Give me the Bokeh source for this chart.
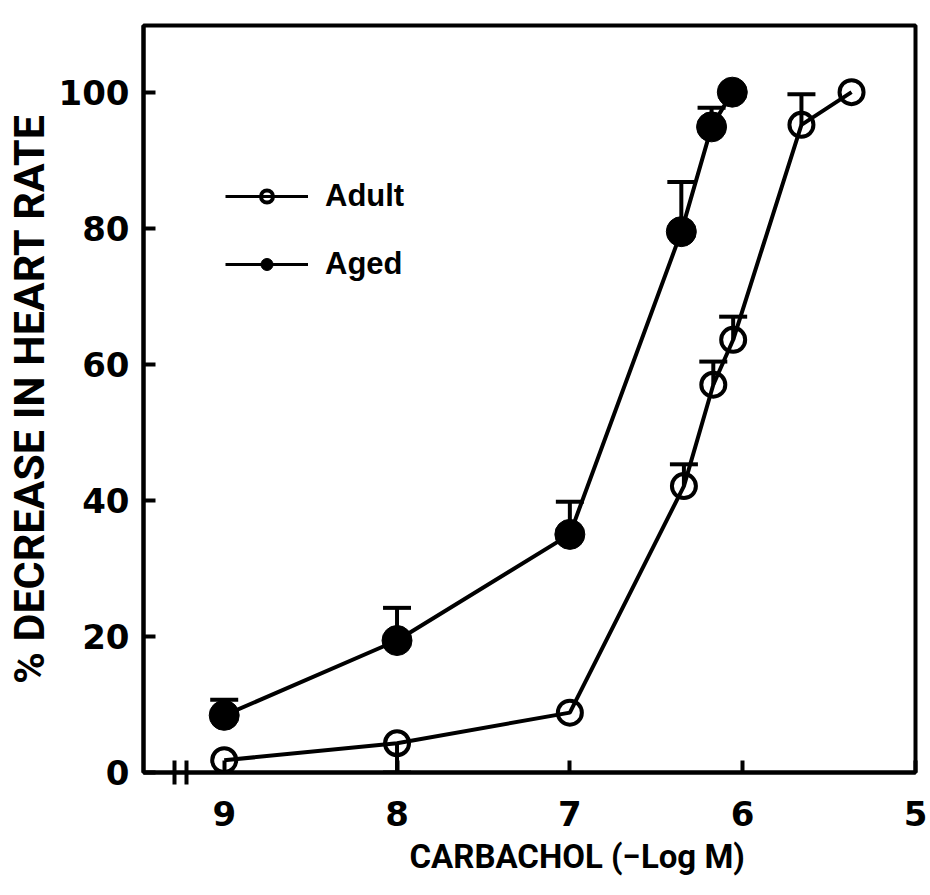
from bokeh.plotting import figure
from bokeh.models import (Range1d, FixedTicker, Whisker, TeeHead, ColumnDataSource,
                          Legend, LegendItem, Title)
from bokeh.embed import file_html
from bokeh.resources import INLINE

# ---- data ----
adult_x = [9.0, 8.0, 7.0, 6.34, 6.17, 6.055, 5.66, 5.37]
adult_y = [1.8, 4.3, 8.8, 42.1, 57.0, 63.6, 95.2, 100.0]
adult_err_up = [0, 0, 0, 3.2, 3.4, 3.4, 4.5, 0]
adult_err_down = [0, 4.3, 0, 0, 0, 0, 0, 0]

aged_x = [9.0, 8.0, 7.0, 6.355, 6.18, 6.06]
aged_y = [8.4, 19.4, 35.0, 79.5, 94.9, 100.0]
aged_err_up = [2.3, 4.8, 4.8, 7.3, 2.8, 0]

x_ticks = [9, 8, 7, 6, 5]
y_ticks = [0, 20, 40, 60, 80, 100]
x_break = [9.29, 9.22]

x_title = "CARBACHOL (\u2212Log M)"
y_title = "% DECREASE IN HEART RATE"
series_names = ["Adult", "Aged"]

TICK_FONT = "DejaVu Sans"
LABEL_FONT = "Roboto"

p = figure(width=930, height=895, x_range=Range1d(9.467, 5), y_range=Range1d(0, 109.8),
           output_backend="svg", toolbar_location=None,
           min_border_left=140, min_border_right=15, min_border_top=25, min_border_bottom=123)
p.grid.visible = False
p.outline_line_color = "black"
p.outline_line_width = 4
p.background_fill_color = "white"
p.border_fill_color = "white"

for ax in (p.xaxis[0], p.yaxis[0]):
    ax.axis_line_width = 4
    ax.axis_line_color = "black"
    ax.major_tick_in = 12
    ax.major_tick_out = 0
    ax.major_tick_line_width = 4
    ax.major_label_text_font = TICK_FONT
    ax.major_label_text_font_style = "bold"
    ax.major_label_text_font_size = "34px"
    ax.major_label_text_color = "black"

p.xaxis.ticker = FixedTicker(ticks=x_ticks, minor_ticks=x_break)
p.xaxis.minor_tick_in = 12
p.xaxis.minor_tick_out = 12
p.xaxis.minor_tick_line_width = 4
p.xaxis.major_label_standoff = 16

p.yaxis.ticker = FixedTicker(ticks=y_ticks, minor_ticks=[])
p.yaxis.major_label_standoff = 14
p.yaxis.axis_label = y_title
p.yaxis.axis_label_text_font = LABEL_FONT
p.yaxis.axis_label_text_font_style = "bold"
p.yaxis.axis_label_text_font_size = "43px"
p.yaxis.axis_label_text_color = "black"
p.yaxis.axis_label_standoff = 2

p.add_layout(Title(text=x_title, align="left", offset=266, text_font=LABEL_FONT,
                   text_font_style="bold", text_font_size="33px", text_color="black",
                   standoff=12), "below")

adult_src = ColumnDataSource(dict(x=adult_x, y=adult_y))
aged_src = ColumnDataSource(dict(x=aged_x, y=aged_y))

# connecting lines
p.line("x", "y", source=aged_src, line_width=4, line_color="black")
p.line("x", "y", source=adult_src, line_width=4, line_color="black")

# error bars (upward)
def up_bars(xs, ys, es):
    idx = [i for i, e in enumerate(es) if e > 0]
    return ColumnDataSource(dict(base=[xs[i] for i in idx], lower=[ys[i] for i in idx],
                                 upper=[ys[i] + es[i] for i in idx]))

for src in (up_bars(aged_x, aged_y, aged_err_up), up_bars(adult_x, adult_y, adult_err_up)):
    p.add_layout(Whisker(source=src, base="base", lower="lower", upper="upper",
                         line_width=4, line_color="black", lower_head=None,
                         upper_head=TeeHead(size=28, line_width=4, line_color="black")))

idx_dn = [i for i, e in enumerate(adult_err_down) if e > 0]
dn_src = ColumnDataSource(dict(base=[adult_x[i] for i in idx_dn],
                               lower=[adult_y[i] - adult_err_down[i] for i in idx_dn],
                               upper=[adult_y[i] for i in idx_dn]))
p.add_layout(Whisker(source=dn_src, base="base", lower="lower", upper="upper",
                     line_width=4, line_color="black", upper_head=None,
                     lower_head=TeeHead(size=28, line_width=4, line_color="black")))

# markers
p.scatter("x", "y", source=aged_src, size=30, marker="circle", fill_color="black",
          line_color="black", line_width=1)
p.scatter("x", "y", source=adult_src, size=24, marker="circle", fill_alpha=0,
          line_color="black", line_width=4)

# legend-only renderers (smaller symbols as in the key); they hold no visible data
nan = float("nan")
lg_line_a = p.line(x=[nan], y=[nan], line_width=3, line_color="black")
lg_pt_a = p.scatter(x=[nan], y=[nan], size=16, marker="circle", fill_alpha=0,
                    line_color="black", line_width=4)
lg_line_b = p.line(x=[nan], y=[nan], line_width=3, line_color="black")
lg_pt_b = p.scatter(x=[nan], y=[nan], size=20, marker="circle", fill_color="black",
                    line_color="black")

legend = Legend(items=[LegendItem(label=series_names[0], renderers=[lg_line_a, lg_pt_a]),
                       LegendItem(label=series_names[1], renderers=[lg_line_b, lg_pt_b])],
                location=(82, 490), border_line_color=None, background_fill_alpha=0,
                glyph_width=83, glyph_height=30, label_height=30, spacing=32,
                padding=0, margin=0, label_standoff=17,
                label_text_font="Liberation Sans", label_text_font_style="bold",
                label_text_font_size="31px", label_text_color="black")
p.add_layout(legend, "center")

open("out.html", "w").write(file_html(p, INLINE))
